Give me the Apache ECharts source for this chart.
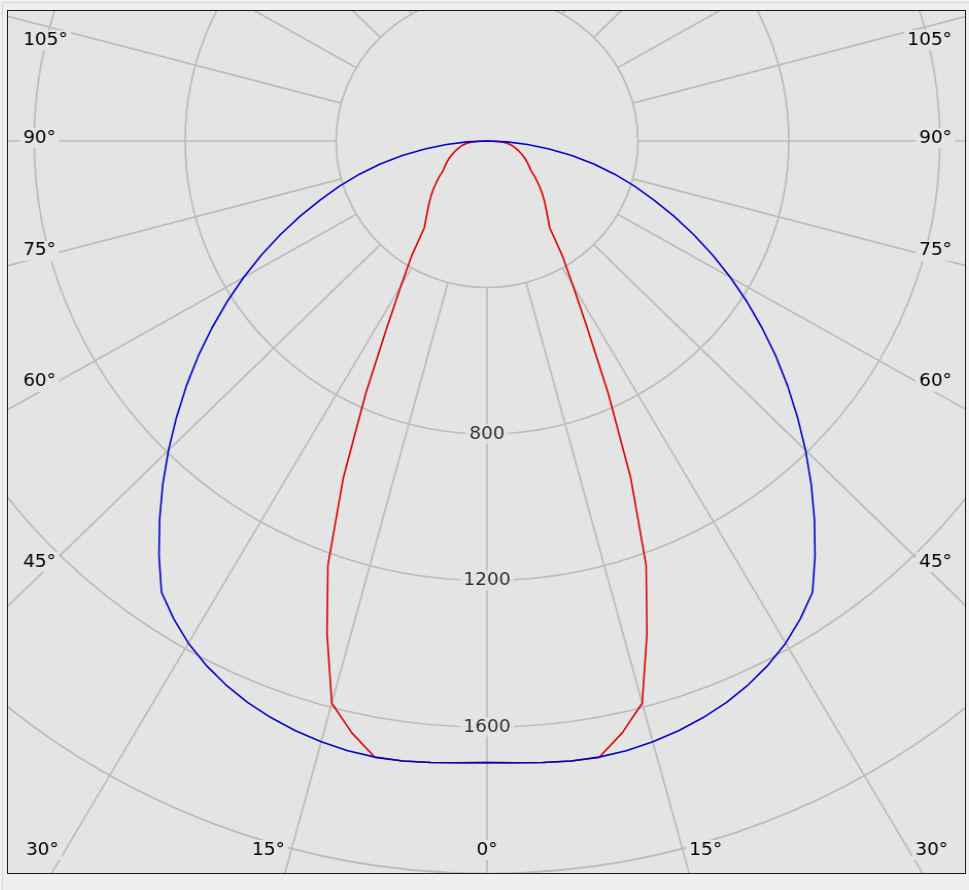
<!DOCTYPE html>
<html><head><meta charset="utf-8">
<script src="https://cdn.jsdelivr.net/npm/echarts@6/dist/echarts.min.js"></script>
<style>
html,body{margin:0;padding:0;background:#efefef;width:969px;height:890px;overflow:hidden;}
#outer{position:absolute;left:2px;top:2px;width:970px;height:900px;border-left:1px solid #d6d6d6;border-top:1px solid #d6d6d6;}
#frame{position:absolute;left:7px;top:10px;width:957px;height:862px;border:1px solid #1a1a1a;background:#e4e4e4;overflow:hidden;}
#chart{position:absolute;left:0;top:0;width:929px;height:862px;transform:scaleX(1.0301);transform-origin:0 0;}
#err{position:absolute;left:20px;top:20px;width:900px;font:12px monospace;color:#900;white-space:pre-wrap;z-index:99;}
</style></head><body>
<div id="outer"></div>
<div id="frame"><div id="chart"></div></div>
<div id="err"></div>
<script>
// ---- data (candela values) ----
const radialTicks = [400, 800, 1200, 1600, 2000, 2400];
const radialLabels = [800, 1200, 1600];
const angleLabels = [0, 15, 30, 45, 60, 75, 90, 105];
// C0-C180 plane (blue), symmetric
const blueAngles = [0, 2.5, 5, 7.5, 10, 12.5, 15, 17.5, 20, 22.5, 25, 27.5, 30, 32.5, 35, 37.5, 40, 42.5, 45,
  47.5, 50, 52.5, 55, 57.5, 60, 62.5, 65, 67.5, 70, 72.5, 75, 77.5, 80, 82.5, 85, 87.5, 90];
const blueValues = [1697, 1699, 1703, 1707, 1708, 1705, 1698, 1688, 1675, 1659, 1638, 1613, 1583, 1546, 1504, 1428, 1350, 1272, 1194,
  1116, 1040, 965, 890, 817, 745, 674, 604, 536, 470, 410, 350, 290, 228, 166, 108, 53, 0];
// C90-C270 plane (red), symmetric
const redAngles = [0, 2.5, 5, 7.5, 10, 12.5, 15, 17.5, 20, 22.5, 25, 27.5, 30, 32.5, 35, 37.5, 40, 42.5, 45,
  47.5, 50, 52.5, 55, 57.5, 60, 62.5, 65, 67.5, 70, 72.5, 75, 77.5, 80, 82.5, 85, 87.5, 90];
const redValues = [1697, 1699, 1703, 1707, 1709, 1655, 1589, 1410, 1233, 995, 760, 575, 455, 372, 290, 265, 244, 226, 209,
  192, 175, 159, 143, 134, 126, 118, 110, 102, 94, 87, 80, 73, 66, 57, 46, 30, 0];

// ---- geometry ----
const S = 1.0301;            // horizontal stretch of the picture
const OX = 8, OY = 11;       // frame interior origin on the page
const CXR = 487, CYR = 141;  // polar centre on the page
const K = 0.3663;            // px per cd
const CX = (CXR - OX) / S, CY = CYR - OY;
const RMAX = radialTicks[radialTicks.length - 1];

function mirror(angles, values) {
  const pts = [];
  for (let i = angles.length - 1; i >= 0; i--) pts.push([values[i], -angles[i]]);
  for (let i = 1; i < angles.length; i++) pts.push([values[i], angles[i]]);
  return pts;
}

const BG = '#e4e4e4';
const TXT = '#000000';

function angleLabelGraphic(a, side) {
  const rad = a * Math.PI / 180;
  const ux = side * Math.sin(rad) * S, uy = Math.cos(rad);
  let t = Infinity, hit = 'side';
  if (Math.abs(ux) > 1e-6) t = (side < 0 ? (CXR - 38) : (936 - CXR)) / Math.abs(ux);
  if (uy > 1e-6) { const tb = (850 - CYR) / uy; if (tb < t) { t = tb; hit = 'bottom'; } }
  let x = CXR + ux * t, y = CYR + uy * t;
  let align = 'center';
  if (hit === 'side') {
    y += a <= 90 ? (-3 - 12 * (90 - a) / 45) : 16;
    x = side < 0 ? 20 : 955;
    align = side < 0 ? 'left' : 'right';
  } else {
    x += side * (a > 0 ? 23 : 0);
  }
  return {
    type: 'text', z: 50,
    x: (x - OX) / S, y: y - OY,
    style: {
      text: a + '°', fontSize: 18, fontFamily: 'DejaVu Sans', fill: TXT,
      align: align, verticalAlign: 'middle',
      backgroundColor: BG, padding: [1, 3]
    }
  };
}

const graphics = [];
angleLabels.forEach(a => {
  graphics.push(angleLabelGraphic(a, -1));
  if (a !== 0) graphics.push(angleLabelGraphic(a, 1));
});

const gridLine = { color: '#bcbcbc', width: 1.7 };

try {
const chart = echarts.init(document.getElementById('chart'));
chart.setOption({
  animation: false,
  backgroundColor: 'transparent',
  polar: [
    { id: 'pg', center: [CX, CY], radius: [radialTicks[0] * K, RMAX * K] },
    { id: 'pd', center: [CX, CY], radius: [0, RMAX * K] }
  ],
  angleAxis: [
    { polarIndex: 0, type: 'value', min: -180, max: 180, interval: 15, startAngle: 90, clockwise: true,
      axisLine: { show: false }, axisTick: { show: false }, axisLabel: { show: false },
      splitLine: { show: true, lineStyle: gridLine } },
    { polarIndex: 1, type: 'value', min: -180, max: 180, interval: 15, startAngle: 90, clockwise: true,
      axisLine: { show: false }, axisTick: { show: false }, axisLabel: { show: false },
      splitLine: { show: false } }
  ],
  radiusAxis: [
    { polarIndex: 0, type: 'value', min: radialTicks[0], max: RMAX, interval: 400,
      axisLine: { show: false }, axisTick: { show: false }, axisLabel: { show: false },
      splitLine: { show: true, lineStyle: gridLine } },
    { polarIndex: 1, type: 'value', min: 0, max: RMAX, interval: 400,
      axisLine: { show: false }, axisTick: { show: false }, axisLabel: { show: false },
      splitLine: { show: false } }
  ],
  series: [
    { type: 'scatter', coordinateSystem: 'polar', polarIndex: 1, z: 5,
      data: radialLabels.map(v => [v, 0]),
      symbolSize: 1, itemStyle: { color: 'rgba(0,0,0,0)' },
      label: { show: true, position: 'inside', formatter: p => String(p.value[0]),
        fontSize: 18, fontFamily: 'DejaVu Sans', color: TXT,
        backgroundColor: BG, padding: [1, 4] } },
    { type: 'line', coordinateSystem: 'polar', polarIndex: 1, z: 6, name: 'C90-C270',
      data: mirror(redAngles, redValues), symbol: 'none', smooth: false,
      lineStyle: { color: '#d80000', width: 1.6 } },
    { type: 'line', coordinateSystem: 'polar', polarIndex: 1, z: 7, name: 'C0-C180',
      data: mirror(blueAngles, blueValues), symbol: 'none', smooth: false,
      lineStyle: { color: '#0000c8', width: 1.6 } }
  ],
  graphic: graphics
});
} catch (e) {
  document.getElementById('err').textContent = e.stack;
}
</script>
</body></html>
